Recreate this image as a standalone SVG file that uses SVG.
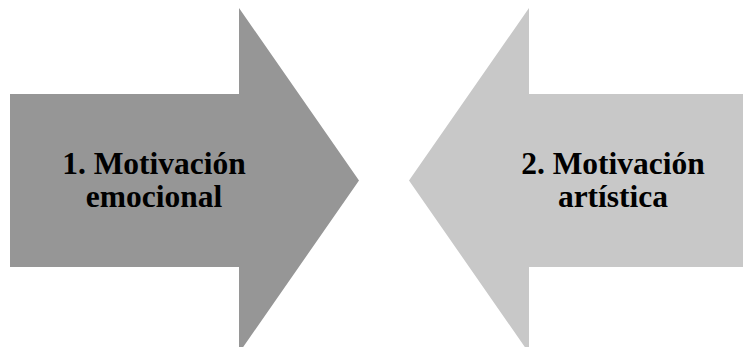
<svg xmlns="http://www.w3.org/2000/svg" width="743" height="347" viewBox="0 0 743 347">
<style>
.lbl{font-family:"Liberation Serif","Times New Roman",serif;font-weight:bold;font-size:31.5px;fill:#000;text-anchor:middle}
</style>
<rect width="743" height="347" fill="#fff"/>
<g id="node-left">
<polygon points="10,94 239,94 239,8 359,180.5 239,353 239,267 10,267" fill="#969696"/>
<text class="lbl" x="154" y="173.5">1. Motivación</text>
<text class="lbl" x="154" y="207">emocional</text>
</g>
<g id="node-right">
<polygon points="743,94 529,94 529,8 409,180.5 529,353 529,267 743,267" fill="#c8c8c8"/>
<text class="lbl" x="613" y="173.5">2. Motivación</text>
<text class="lbl" x="613" y="207">artística</text>
</g>
<g id="connectors"/>
</svg>
